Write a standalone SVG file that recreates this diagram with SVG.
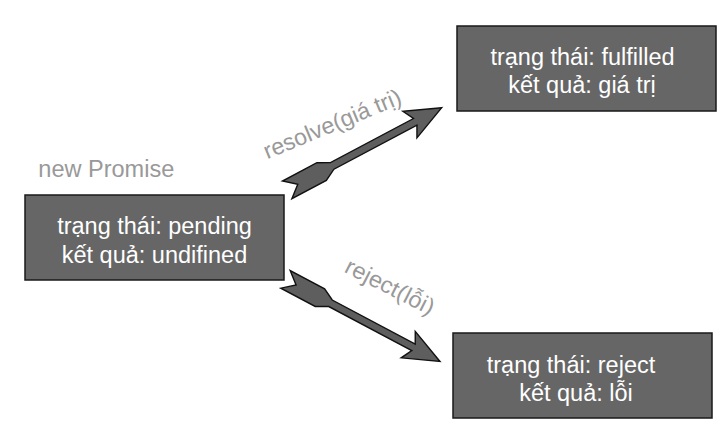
<svg xmlns="http://www.w3.org/2000/svg" width="723" height="423" viewBox="0 0 723 423">
<defs>
<style>
.box{fill:#666666;stroke:#1a1a1a;stroke-width:1.5}
.bt{font-family:"Liberation Sans",Arial,sans-serif;font-size:23.5px;fill:#ffffff;text-anchor:middle}
.lbl{font-family:"Liberation Sans",Arial,sans-serif;font-size:23px;fill:#999999}
.arr{fill:#5e5e5e;stroke:#111111;stroke-width:1.4;stroke-linejoin:miter}
</style>
<path id="arrowShape" class="arr" d="M0 0 L-36 -15 L-30 -3.7 L-124 -3.7 L-136 -10 L-175 -10 L-163 0 L-175 10 L-136 10 L-124 3.7 L-30 3.7 L-36 15 Z"/>
</defs>
<rect width="723" height="423" fill="#ffffff"/>
<g id="connectors">
<use href="#arrowShape" transform="translate(441.7,107.7) rotate(-28)"/>
<use href="#arrowShape" transform="translate(440,361.5) rotate(28)"/>
<text class="lbl" x="0" y="0" textLength="147" lengthAdjust="spacingAndGlyphs" transform="translate(267.3,159.3) rotate(-22.5)">resolve(giá trị)</text>
<text class="lbl" x="0" y="0" textLength="97" lengthAdjust="spacingAndGlyphs" transform="translate(343.3,271.5) rotate(27)">reject(lỗi)</text>
</g>
<text id="label-new" class="lbl" x="38.3" y="177.3" textLength="136" lengthAdjust="spacingAndGlyphs">new Promise</text>
<g id="node-pending">
<rect class="box" x="25" y="195" width="259" height="85"/>
<text class="bt" x="154.5" y="234.3">trạng thái: pending</text>
<text class="bt" x="154.5" y="263.3">kết quả: undifined</text>
</g>
<g id="node-fulfilled">
<rect class="box" x="457" y="26" width="259" height="85"/>
<text class="bt" x="582.5" y="65">trạng thái: fulfilled</text>
<text class="bt" x="582" y="93">kết quả: giá trị</text>
</g>
<g id="node-reject">
<rect class="box" x="453" y="333" width="259" height="85"/>
<text class="bt" x="571" y="372.5">trạng thái: reject</text>
<text class="bt" x="576" y="401">kết quả: lỗi</text>
</g>
</svg>
